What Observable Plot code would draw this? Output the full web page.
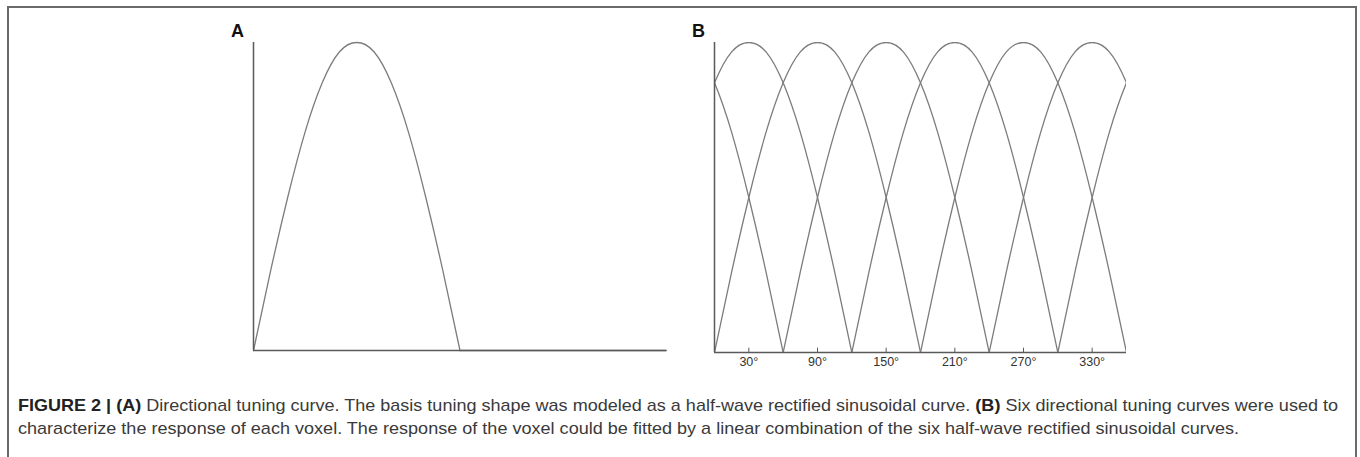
<!DOCTYPE html>
<html>
<head>
<meta charset="utf-8">
<script src="https://cdn.jsdelivr.net/npm/d3@7"></script>
<script src="https://cdn.jsdelivr.net/npm/@observablehq/plot@0.6"></script>
<style>
  html, body { margin: 0; padding: 0; background: #fff; }
  #root { position: relative; width: 1360px; height: 457px; overflow: hidden; background: #fff; font-family: "Liberation Sans", Arial, sans-serif; }
  #frame { position: absolute; left: 7px; top: 6px; width: 1346px; height: 470px; border: 2px solid #6a6a6a; border-bottom: none; }
  .panel { position: absolute; }
  .plabel { position: absolute; font-weight: bold; font-size: 18px; color: #111; }
  .cap { position: absolute; left: 18px; font-family: "Liberation Sans", Arial, sans-serif; font-size: 17px; color: #3a3a3a; white-space: nowrap; transform: scaleX(1.062); transform-origin: 0 0; }
  .cap b { color: #222; }
  #cap1 { top: 396px; }
  #cap2 { top: 419px; }
</style>
</head>
<body>
<div id="root">
  <div id="frame"></div>
  <div class="plabel" style="left:231px; top:21px;">A</div>
  <div class="plabel" style="left:692px; top:21px;">B</div>
  <div id="panelA" class="panel" style="left:233px; top:22px;"></div>
  <div id="panelB" class="panel" style="left:694px; top:22px;"></div>
  <div id="cap1" class="cap"><b>FIGURE 2 | (A)</b> Directional tuning curve. The basis tuning shape was modeled as a half-wave rectified sinusoidal curve. <b>(B)</b> Six directional tuning curves were used to</div>
  <div id="cap2" class="cap">characterize the response of each voxel. The response of the voxel could be fitted by a linear combination of the six half-wave rectified sinusoidal curves.</div>
</div>
<script>
// Panel A: single half-wave rectified tuning curve (angle in degrees, response 0..1)
const panelAAngles   = [0, 15, 30, 45, 60, 75, 90, 105, 120, 135, 150, 165, 180, 180, 360];
const panelAResponse = [0, 0.26, 0.5, 0.71, 0.87, 0.97, 1, 0.97, 0.87, 0.71, 0.5, 0.26, 0, 0, 0];
const panelASegment  = ["arc","arc","arc","arc","arc","arc","arc","arc","arc","arc","arc","arc","arc","flat","flat"];

// Panel B: six tuning curves, each the same shape centered on a preferred direction
const preferredDirections = [30, 90, 150, 210, 270, 330];
const shapeOffsets  = [-90, -75, -60, -45, -30, -15, 0, 15, 30, 45, 60, 75, 90];
const shapeResponse = [0, 0.26, 0.5, 0.71, 0.87, 0.97, 1, 0.97, 0.87, 0.71, 0.5, 0.26, 0];

// Panel B tick labels
const tickAngles = [30, 90, 150, 210, 270, 330];
const tickLabels = ["30°", "90°", "150°", "210°", "270°", "330°"];

const curveColor = "#7c7c7c";
const axisColor = "#5a5a5a";

const dataA = panelAAngles.map((a, i) => ({angle: a, response: panelAResponse[i], segment: panelASegment[i]}));

const dataB = [];
for (const mu of preferredDirections) {
  for (const wrap of [-360, 0, 360]) {
    const pts = shapeOffsets.map((o, i) => ({angle: mu + wrap + o, response: shapeResponse[i], series: `${mu}/${wrap}`}));
    if (pts[pts.length - 1].angle > 0 && pts[0].angle < 360) dataB.push(...pts);
  }
}

const plotA = Plot.plot({
  width: 453, height: 348,
  marginLeft: 20, marginRight: 20, marginTop: 20, marginBottom: 20,
  x: {domain: [0, 360], axis: null},
  y: {domain: [0, 1], axis: null},
  marks: [
    Plot.line(dataA, {x: "angle", y: "response", z: "segment", stroke: curveColor, strokeWidth: 1.3, curve: "natural"}),
    Plot.ruleX([0], {stroke: axisColor, strokeWidth: 1.5}),
    Plot.ruleY([0], {stroke: axisColor, strokeWidth: 1.5})
  ]
});
document.getElementById("panelA").appendChild(plotA);

const plotB = Plot.plot({
  width: 452, height: 356,
  marginLeft: 20, marginRight: 20, marginTop: 20, marginBottom: 26,
  style: {fontFamily: "'Liberation Sans', Arial, sans-serif", fontSize: "12.5px", color: "#333"},
  x: {domain: [0, 360], ticks: tickAngles, tickFormat: d => tickLabels[tickAngles.indexOf(d)], tickSize: 0, tickPadding: 5, label: null},
  y: {domain: [0, 1], axis: null},
  marks: [
    Plot.line(dataB, {x: "angle", y: "response", z: "series", stroke: curveColor, strokeWidth: 1.3, curve: "natural", clip: true}),
    Plot.ruleX(tickAngles, {y1: 0, y2: 0.014, stroke: axisColor, strokeWidth: 1}),
    Plot.ruleX([0], {stroke: axisColor, strokeWidth: 1.5}),
    Plot.ruleY([0], {stroke: axisColor, strokeWidth: 1.5})
  ]
});
document.getElementById("panelB").appendChild(plotB);

// Fit the first caption line to the full caption width (1320px), as in the justified original
const cap1 = document.getElementById("cap1");
const w1 = cap1.getBoundingClientRect().width / 1.062;
cap1.style.transform = `scaleX(${1320 / w1})`;
</script>
</body>
</html>
